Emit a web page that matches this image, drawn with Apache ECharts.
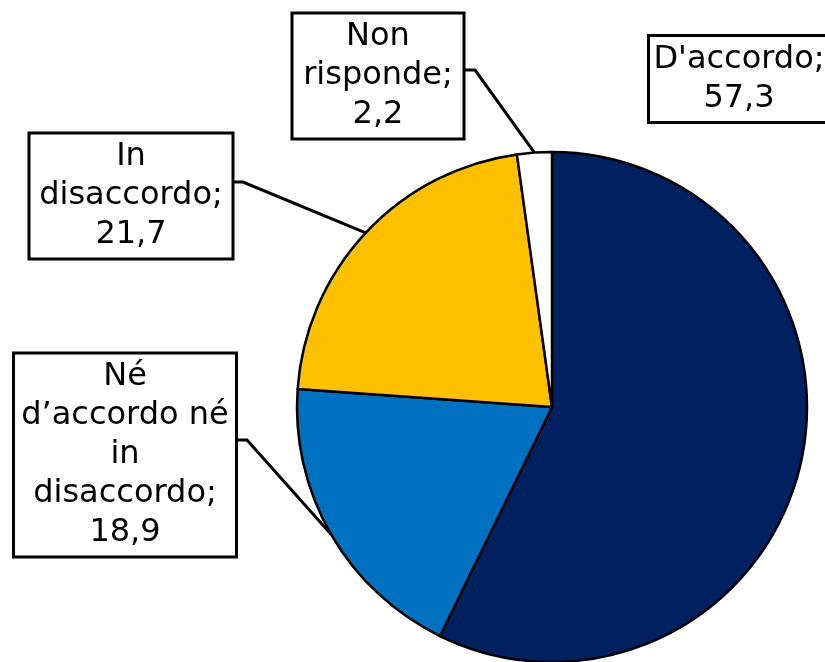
<!DOCTYPE html>
<html>
<head>
<meta charset="utf-8">
<script src="https://cdn.jsdelivr.net/npm/echarts@6/dist/echarts.min.js"></script>
<style>
  html, body { margin: 0; padding: 0; background: #fff; }
  #chart { width: 825px; height: 662px; }
</style>
</head>
<body>
<div id="chart"></div>
<script>
// data (clockwise from 12 o'clock)
const categories = ["D'accordo", 'Né\nd’accordo né\nin\ndisaccordo', 'In\ndisaccordo', 'Non\nrisponde'];
const values = [57.3, 18.9, 21.7, 2.2];
const colors = ['#002060', '#0070C0', '#FFC000', '#FFFFFF'];

// label boxes: centre, text width, side padding, leader bend (null = no leader)
const boxes = [
  { cx: 739, cy: 79, w: 172, px: 3, bend: null },
  { cx: 125, cy: 455, w: 208, px: 6, bend: [[247, 440], [235, 440]] },
  { cx: 131, cy: 196, w: 185, px: 8, bend: [[243, 182], [232, 182]] },
  { cx: 378, cy: 76, w: 151, px: 9, bend: [[475, 70], [463, 70]] }
];

const chart = echarts.init(document.getElementById('chart'));

const data = categories.map((name, i) => ({
  name: name,
  value: values[i],
  itemStyle: { color: colors[i] },
  label: { width: boxes[i].w, padding: [3, boxes[i].px, 3, boxes[i].px] },
  labelLine: { show: boxes[i].bend != null }
}));

const option = {
  animation: false,
  series: [{
    type: 'pie',
    center: [552, 407],
    radius: 255,
    startAngle: 90,
    clockwise: true,
    data: data,
    itemStyle: { borderColor: '#000', borderWidth: 2.5 },
    label: {
      show: true,
      position: 'outside',
      formatter: p => p.name + ';\n' + String(p.value).replace('.', ','),
      fontFamily: 'DejaVu Sans',
      fontSize: 32,
      lineHeight: 39,
      color: '#000',
      align: 'center',
      overflow: 'none',
      backgroundColor: '#fff',
      borderColor: '#000',
      borderWidth: 3
    },
    labelLine: {
      lineStyle: { color: '#000', width: 3 }
    },
    labelLayout: function (params) {
      const b = boxes[params.dataIndex];
      const out = { x: b.cx, y: b.cy, align: 'center', verticalAlign: 'middle' };
      if (b.bend && params.labelLinePoints) {
        out.labelLinePoints = [params.labelLinePoints[0], b.bend[0], b.bend[1]];
      }
      return out;
    }
  }]
};

chart.setOption(option);
</script>
</body>
</html>
